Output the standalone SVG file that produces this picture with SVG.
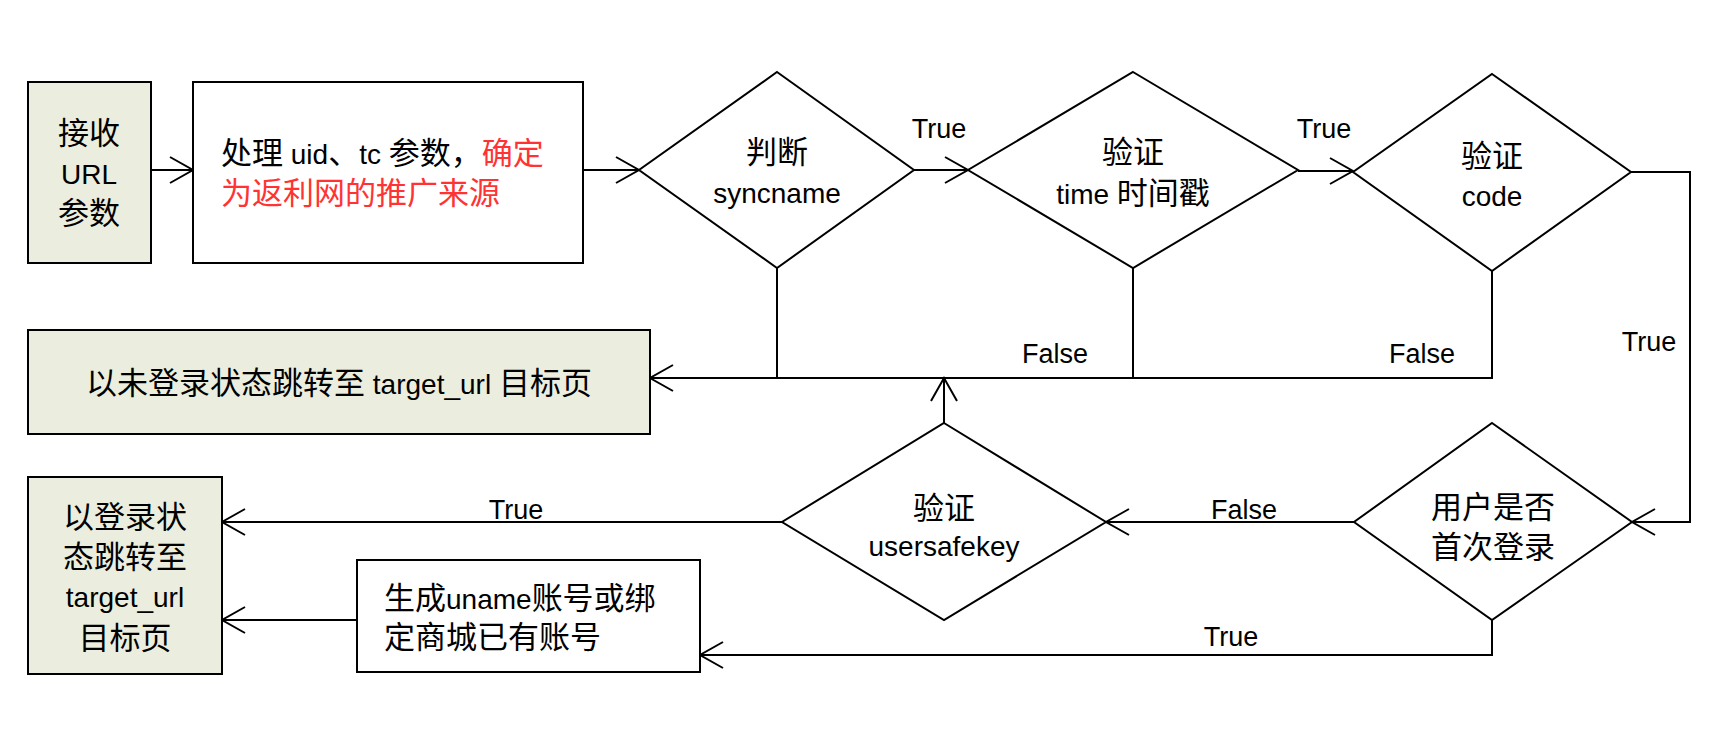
<svg xmlns="http://www.w3.org/2000/svg" width="1720" height="750" viewBox="0 0 1720 750">
<defs>
<style>
.box{stroke:#000;stroke-width:2;fill:#fff}
.green{fill:#EBEEDE}
.dia{stroke:#000;stroke-width:2;fill:#fff}
.t{font-family:"Liberation Sans","Noto Sans CJK SC",sans-serif;font-size:31px;fill:#000}
.l{font-size:28px}
.c{text-anchor:middle}
.lbl{font-family:"Liberation Sans","Noto Sans CJK SC",sans-serif;font-size:27px;fill:#000;text-anchor:middle}
.red{fill:#FF3333}
.ln{stroke:#000;stroke-width:2;fill:none}
.ar{marker-end:url(#arr)}
</style>
<marker id="arr" markerWidth="30" markerHeight="30" viewBox="-25 -15 30 30" refX="0" refY="0" orient="auto" markerUnits="userSpaceOnUse" overflow="visible">
<path d="M-23,-13 L0,0 L-23,13" fill="none" stroke="#000" stroke-width="2"/>
</marker>
</defs>
<rect width="1720" height="750" fill="#fff"/>

<g id="connectors">
<path class="ln ar" d="M151,170 L193,170"/>
<path class="ln ar" d="M583,170 L639,170"/>
<path class="ln ar" d="M914,170 L968,170"/>
<path class="ln ar" d="M1298,171 L1353,171"/>
<path class="ln ar" d="M1631,172 L1690,172 L1690,522 L1632,522"/>
<path class="ln ar" d="M1354,522 L1106,522"/>
<path class="ln ar" d="M782,522 L222,522"/>
<path class="ln ar" d="M1492,620 L1492,655 L700,655"/>
<path class="ln ar" d="M357,620 L222,620"/>
<path class="ln ar" d="M944,423 L944,378"/>
<path class="ln" d="M777,268 L777,378"/>
<path class="ln" d="M1133,268 L1133,378"/>
<path class="ln ar" d="M1492,271 L1492,378 L650,378"/>
<text class="lbl" x="939" y="138">True</text>
<text class="lbl" x="1324" y="138">True</text>
<text class="lbl" x="1649" y="351">True</text>
<text class="lbl" x="1055" y="363">False</text>
<text class="lbl" x="1422" y="363">False</text>
<text class="lbl" x="1244" y="519">False</text>
<text class="lbl" x="516" y="519">True</text>
<text class="lbl" x="1231" y="646">True</text>
</g>

<g id="n_receive">
<rect class="box green" x="28" y="82" width="123" height="181"/>
<text class="t c" x="89" y="144">接收</text>
<text class="t c l" x="89" y="184">URL</text>
<text class="t c" x="89" y="224">参数</text>
</g>

<g id="n_process">
<rect class="box" x="193" y="82" width="390" height="181"/>
<text class="t" x="221" y="164">处理<tspan class="l"> uid</tspan>、<tspan class="l">tc </tspan>参数，<tspan class="red">确定</tspan></text>
<text class="t red" x="221" y="204">为返利网的推广来源</text>
</g>

<g id="d_syncname">
<polygon class="dia" points="777,72 914,170 777,268 639,170"/>
<text class="t c" x="777" y="163">判断</text>
<text class="t c l" x="777" y="203">syncname</text>
</g>

<g id="d_time">
<polygon class="dia" points="1133,72 1298,170 1133,268 968,170"/>
<text class="t c" x="1133" y="163">验证</text>
<text class="t c" x="1133" y="204"><tspan class="l">time </tspan>时间戳</text>
</g>

<g id="d_code">
<polygon class="dia" points="1492,74 1631,172 1492,271 1353,172"/>
<text class="t c" x="1492" y="167">验证</text>
<text class="t c l" x="1492" y="206">code</text>
</g>

<g id="n_unlogged">
<rect class="box green" x="28" y="330" width="622" height="104"/>
<text class="t c" x="339" y="394">以未登录状态跳转至<tspan class="l"> target_url </tspan>目标页</text>
</g>

<g id="d_first">
<polygon class="dia" points="1492,423 1632,522 1492,620 1354,522"/>
<text class="t c" x="1493" y="518">用户是否</text>
<text class="t c" x="1493" y="558">首次登录</text>
</g>

<g id="d_usersafekey">
<polygon class="dia" points="944,423 1106,522 944,620 782,522"/>
<text class="t c" x="944" y="519">验证</text>
<text class="t c l" x="944" y="556">usersafekey</text>
</g>

<g id="n_logged">
<rect class="box green" x="28" y="477" width="194" height="197"/>
<text class="t c" x="125" y="528">以登录状</text>
<text class="t c" x="125" y="568">态跳转至</text>
<text class="t c l" x="125" y="607">target_url</text>
<text class="t c" x="125" y="649">目标页</text>
</g>

<g id="n_create">
<rect class="box" x="357" y="560" width="343" height="112"/>
<text class="t" x="384" y="609">生成<tspan class="l">uname</tspan>账号或绑</text>
<text class="t" x="384" y="648">定商城已有账号</text>
</g>
</svg>
